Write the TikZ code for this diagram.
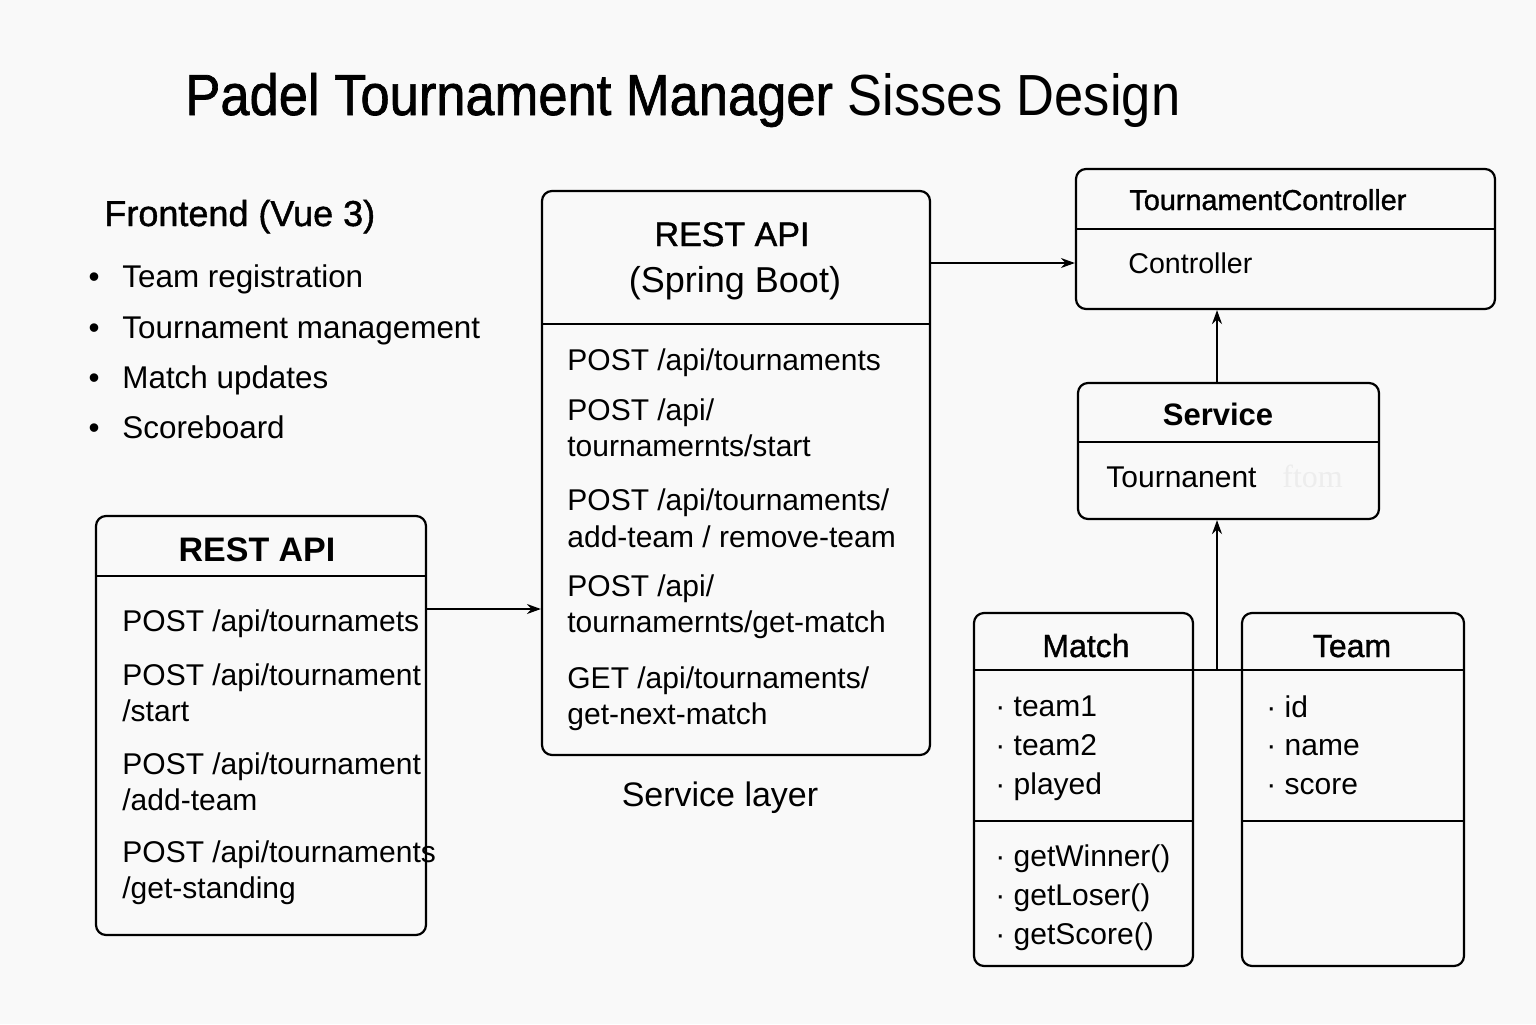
\documentclass[tikz,border=0pt]{standalone}
\usepackage{fontspec}
\setmainfont{Liberation Sans}
\newfontfamily\medfont[FakeBold=1.2]{Liberation Sans}
\newfontfamily\fadedfont{Liberation Serif}
\usetikzlibrary{arrows.meta,fit}
\definecolor{bg}{RGB}{249,249,249}
\begin{document}
\begin{tikzpicture}[x=0.5pt,y=-0.5pt,
  box/.style={draw, line width=1.1pt, rounded corners=5pt, inner sep=0pt, fill=bg},
  div/.style={line width=1.1pt},
  arr/.style={-{Stealth[length=7pt,width=5pt]}, line width=0.9pt},
  lbl/.style={anchor=base west, inner sep=0pt, font=\fontsize{15}{18}\selectfont},
  ctr/.style={anchor=base, inner sep=0pt},
  big/.style={anchor=base west, inner sep=0pt, font=\fontsize{15.7}{19}\selectfont}]
\fill[bg] (0,0) rectangle (1536,1024);
\useasboundingbox (0,0) rectangle (1536,1024);

% title
\node[anchor=base west, inner sep=0pt, font=\fontsize{29}{34}\selectfont] (title) at (185,115)
  {\scalebox{0.905}[1]{{\medfont Padel Tournament Manager} Sisses Design}};

% frontend
\node[anchor=base west, inner sep=0pt, font=\fontsize{18}{22}\selectfont\medfont] (fe) at (104,226) {Frontend (Vue 3)};
\foreach \yy/\txt [count=\i] in {287/Team registration, 338/Tournament management, 388/Match updates, 438/Scoreboard}{
  \node[big, anchor=base] (b\i) at (94,\yy) {•};
  \node[big] (f\i) at (122,\yy) {\txt};
}

% left REST API box
\node[box, fit={(96,516) (426,935)}] (lbox) {};
\draw[div] (96,576) -- (426,576);
\node[ctr, font=\fontsize{17}{20}\selectfont\bfseries] (lt) at (257,561) {REST API};
\node[lbl] (l1) at (122,631) {POST /api/tournamets};
\node[lbl] (l2) at (122,685) {POST /api/tournament};
\node[lbl] (l3) at (122,721) {/start};
\node[lbl] (l4) at (122,774) {POST /api/tournament};
\node[lbl] (l5) at (122,810) {/add-team};
\node[lbl] (l6) at (122,862) {POST /api/tournaments};
\node[lbl] (l7) at (122,898) {/get-standing};

% middle REST API box
\node[box, fit={(542,191) (930,755)}] (mbox) {};
\draw[div] (542,324) -- (930,324);
\node[ctr, font=\fontsize{17}{20}\selectfont\medfont] (mt1) at (732,246) {REST API};
\node[ctr, font=\fontsize{18}{21}\selectfont] (mt2) at (735,292) {(Spring Boot)};
\node[lbl] (m1) at (567,370) {POST /api/tournaments};
\node[lbl] (m2) at (567,420) {POST /api/};
\node[lbl] (m3) at (567,456) {tournamernts/start};
\node[lbl] (m4) at (567,510) {POST /api/tournaments/};
\node[lbl] (m5) at (567,547) {add-team / remove-team};
\node[lbl] (m6) at (567,596) {POST /api/};
\node[lbl] (m7) at (567,632) {tournamernts/get-match};
\node[lbl] (m8) at (567,688) {GET /api/tournaments/};
\node[lbl] (m9) at (567,724) {get-next-match};
\node[ctr, font=\fontsize{17}{20}\selectfont] (sl) at (720,806) {Service layer};

% TournamentController
\node[box, fit={(1076,169) (1495,309)}] (tc) {};
\draw[div] (1076,229) -- (1495,229);
\node[anchor=base west, inner sep=0pt, font=\fontsize{14.4}{17}\selectfont\medfont] (tct) at (1129,210) {TournamentController};
\node[anchor=base west, inner sep=0pt, font=\fontsize{14.3}{17}\selectfont] (tcc) at (1128,273) {Controller};

% Service
\node[box, fit={(1078,383) (1379,519)}] (svc) {};
\draw[div] (1078,442) -- (1379,442);
\node[ctr, font=\fontsize{15.5}{18}\selectfont\bfseries] (svt) at (1218,425) {Service};
\node[lbl] (svn) at (1106,487) {Tournanent};
\node[anchor=base west, inner sep=0pt, text=black!7, font=\fontsize{16}{18}\selectfont\fadedfont] (svf) at (1282,487) {ftom};

% Match
\node[box, fit={(974,613) (1193,966)}] (match) {};
\draw[div] (974,670) -- (1193,670);
\draw[div] (974,821) -- (1193,821);
\node[ctr, font=\fontsize{16}{19}\selectfont\medfont] (mat) at (1086,657) {Match};
\node[lbl] (ma1) at (995,716) {· team1};
\node[lbl] (ma2) at (995,755) {· team2};
\node[lbl] (ma3) at (995,794) {· played};
\node[lbl] (ma4) at (995,866) {· getWinner()};
\node[lbl] (ma5) at (995,905) {· getLoser()};
\node[lbl] (ma6) at (995,944) {· getScore()};

% Team
\node[box, fit={(1242,613) (1464,966)}] (team) {};
\draw[div] (1242,670) -- (1464,670);
\draw[div] (1242,821) -- (1464,821);
\node[ctr, font=\fontsize{16}{19}\selectfont\medfont] (tmt) at (1352,657) {Team};
\node[lbl] (te1) at (1266,717) {· id};
\node[lbl] (te2) at (1266,755) {· name};
\node[lbl] (te3) at (1266,794) {· score};

% connectors
\coordinate (a1) at (930,263);
\draw[arr] (a1) -- (tc.west |- a1);
\coordinate (a2) at (426,609);
\draw[arr] (a2) -- (mbox.west |- a2);
\coordinate (a3) at (1217,383);
\draw[arr] (a3) -- (a3 |- tc.south);
\coordinate (a4) at (1217,670);
\draw[arr] (a4) -- (a4 |- svc.south);
\draw[div] (match.east |- a4) -- (team.west |- a4);
\end{tikzpicture}
\end{document}
